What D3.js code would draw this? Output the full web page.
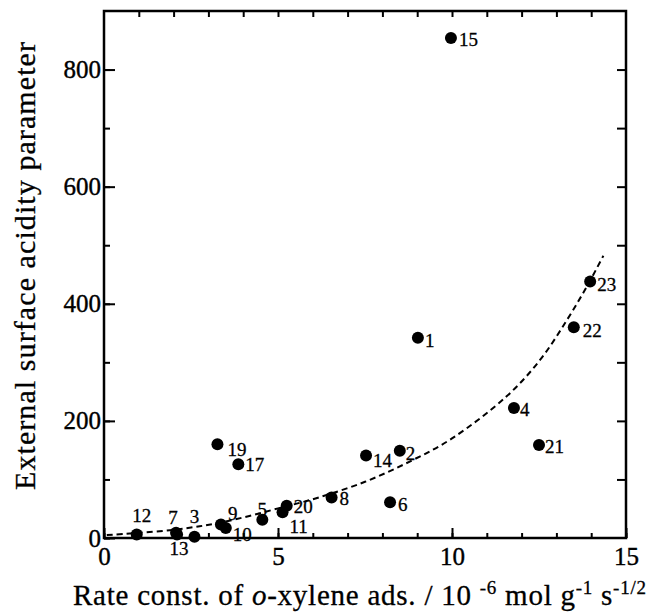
<!DOCTYPE html>
<html>
<head>
<meta charset="utf-8">
<script src="https://cdn.jsdelivr.net/npm/d3@7"></script>
<style>
  body { margin: 0; background: #fff; }
  text { font-family: "Liberation Serif", "Times New Roman", serif; fill: #000; }
</style>
</head>
<body>
<div id="chart"></div>
<script>
// sample numbers and their values
var sampleIds = ['1', '2', '3', '4', '5', '6', '7', '8', '9', '10', '11', '12',
                 '13', '14', '15', '17', '19', '20', '21', '22', '23'];
var rateConst = [9.02, 8.5, 2.6, 11.78, 4.55, 8.22, 2.07, 6.54, 3.36, 3.5, 5.13, 0.94,
                 2.1, 7.53, 9.97, 3.86, 3.26, 5.25, 12.5, 13.5, 13.97];
var acidity = [342, 149, 2, 222, 31, 61, 9, 69, 23, 17, 44, 6,
               6, 141, 854, 126, 160, 55, 159, 360, 438];

// dashed fitted curve
var fitX = [0.08, 2.0, 3.4, 5.1, 6.1, 7.5, 8.8, 10.0, 11.57, 12.53, 13.3, 13.87, 14.35];
var fitY = [5, 14, 27, 52, 68, 96, 131, 170, 242, 304, 372, 429, 482];

var xMajorTicks = [0, 5, 10, 15];
var yMajorTicks = [0, 200, 400, 600, 800];

// where each number sits next to its dot: [dx, dy, anchor]
var labelPlace = {
  '15': [8, 8, 'start'], '23': [7, 9, 'start'], '22': [9, 10, 'start'],
  '1': [7, 9, 'start'], '4': [6, 8, 'start'], '21': [6, 8, 'start'],
  '2': [6, 9, 'start'], '14': [7, 12, 'start'], '6': [8, 9, 'start'],
  '8': [8, 7, 'start'], '20': [7, 7, 'start'], '11': [7, 21, 'start'],
  '5': [0, -4, 'middle'], '9': [7, -5, 'start'], '10': [7, 13, 'start'],
  '19': [10, 12, 'start'], '17': [7, 7, 'start'], '12': [5, -12, 'middle'],
  '7': [-3, -9, 'middle'], '13': [2, 21, 'middle'], '3': [0, -14, 'middle']
};

var width = 650,
    height = 614;

var margin = {left: 104, right: 24, top: 11, bottom: 76};
var plotW = width - margin.left - margin.right,
    plotH = height - margin.top - margin.bottom;

var svg = d3.select('#chart')
    .append('svg')
    .attr('width', width)
    .attr('height', height);

var x = d3.scaleLinear().domain([0, 15]).range([0, plotW]);
var y = d3.scaleLinear().domain([0, 900]).range([plotH, 0]);

var g = svg.append('g')
    .attr('transform', 'translate(' + margin.left + ',' + margin.top + ')');

function styleAxis(sel) {
    sel.select('.domain').remove();
    sel.selectAll('line').attr('stroke', '#000').attr('stroke-width', 2);
    sel.selectAll('text')
        .style('font-family', '"Liberation Serif", "Times New Roman", serif')
        .style('font-size', '25px')
        .attr('fill', '#000')
        .attr('stroke', '#000')
        .attr('stroke-width', 0.4);
}

// bottom: minor + major, ticks pointing inward
g.append('g')
    .attr('transform', 'translate(0,' + plotH + ')')
    .call(d3.axisBottom(x).tickValues(d3.range(0, 16)).tickSize(-5).tickFormat(''))
    .call(styleAxis);
g.append('g')
    .attr('transform', 'translate(0,' + plotH + ')')
    .call(d3.axisBottom(x).tickValues(xMajorTicks).tickSize(-10).tickPadding(9).tickFormat(d3.format('d')))
    .call(styleAxis);

// top mirror ticks
g.append('g')
    .call(d3.axisTop(x).tickValues(d3.range(1, 15)).tickSize(-6).tickFormat(''))
    .call(styleAxis);

// left: minor + major
g.append('g')
    .call(d3.axisLeft(y).tickValues(d3.range(0, 900, 100)).tickSize(-6).tickFormat(''))
    .call(styleAxis);
g.append('g')
    .call(d3.axisLeft(y).tickValues(yMajorTicks).tickSize(-11).tickPadding(3).tickFormat(d3.format('d')))
    .call(styleAxis);

// right mirror ticks
g.append('g')
    .attr('transform', 'translate(' + plotW + ',0)')
    .call(d3.axisRight(y).tickValues(d3.range(100, 900, 100)).tickSize(-9).tickFormat(''))
    .call(styleAxis);

// frame
g.append('rect')
    .attr('x', 0)
    .attr('y', 0)
    .attr('width', plotW)
    .attr('height', plotH)
    .attr('fill', 'none')
    .attr('stroke', '#000')
    .attr('stroke-width', 2.5);

// fitted curve
var fitPts = fitX.map((v, i) => [v, fitY[i]]);
var line = d3.line()
    .x(d => x(d[0]))
    .y(d => y(d[1]))
    .curve(d3.curveCatmullRom);

g.append('path')
    .datum(fitPts)
    .attr('d', line)
    .attr('fill', 'none')
    .attr('stroke', '#000')
    .attr('stroke-width', 2)
    .attr('stroke-dasharray', '6,4');

// points
var pts = sampleIds.map((id, i) => ({id: id, x: rateConst[i], y: acidity[i]}));

g.selectAll('circle.pt')
    .data(pts)
    .enter()
    .append('circle')
    .attr('class', 'pt')
    .attr('cx', d => x(d.x))
    .attr('cy', d => y(d.y))
    .attr('r', 6)
    .attr('fill', '#000');

g.selectAll('text.pt-label')
    .data(pts)
    .enter()
    .append('text')
    .attr('class', 'pt-label')
    .attr('x', d => x(d.x) + labelPlace[d.id][0])
    .attr('y', d => y(d.y) + labelPlace[d.id][1])
    .attr('text-anchor', d => labelPlace[d.id][2])
    .attr('stroke', '#000')
    .attr('stroke-width', 0.3)
    .style('font-size', '19px')
    .text(d => d.id);

// x axis title
var xt = svg.append('text')
    .attr('x', 73)
    .attr('y', 605)
    .attr('stroke', '#000')
    .attr('stroke-width', 0.3)
    .style('font-size', '29px');
xt.append('tspan').text('Rate const. of ');
xt.append('tspan').style('font-style', 'italic').text('o');
xt.append('tspan').text('-xylene ads. / 10 ');
xt.append('tspan').attr('dy', -11).style('font-size', '19px').text('-6');
xt.append('tspan').attr('dy', 11).text(' mol g');
xt.append('tspan').attr('dy', -11).style('font-size', '19px').text('-1');
xt.append('tspan').attr('dy', 11).text(' s');
xt.append('tspan').attr('dy', -11).style('font-size', '19px').text('-1/2');
xt.attr('textLength', 573).attr('lengthAdjust', 'spacing');

// y axis title
svg.append('text')
    .attr('transform', 'translate(35,266) rotate(-90)')
    .attr('text-anchor', 'middle')
    .attr('stroke', '#000')
    .attr('stroke-width', 0.3)
    .attr('textLength', 448)
    .attr('lengthAdjust', 'spacing')
    .style('font-size', '30px')
    .text('External surface acidity parameter');
</script>
</body>
</html>
